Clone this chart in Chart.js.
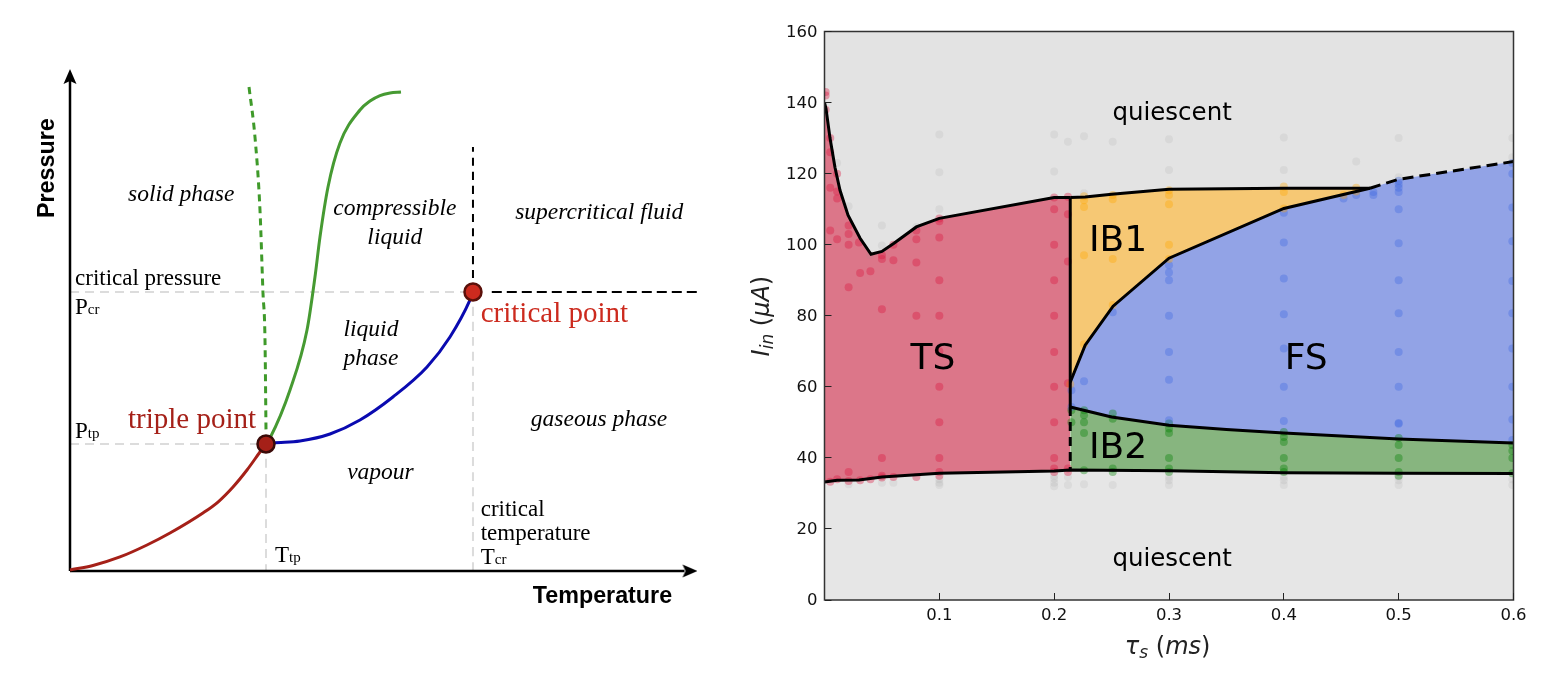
<!DOCTYPE html>
<html>
<head>
<meta charset="utf-8">
<title>Phase diagrams</title>
<script src="https://cdn.jsdelivr.net/npm/chart.js@4"></script>
<style>
  html, body { margin: 0; padding: 0; background: #fff; overflow: hidden; }
  canvas { position: absolute; top: 0; }
  #phase { left: 0; }
  #regime { left: 740px; }
</style>
</head>
<body>
<canvas id="phase" width="740" height="674"></canvas>
<canvas id="regime" width="802" height="674"></canvas>
<script>
// ---- left panel data, temperature / pressure in percent of the axes ----
const sublimationCurve = [[0,0.2],[3.67,1.1],[7.97,2.8],[12.28,5.19],[15.95,7.58],[21.2,11.58],[23.6,13.77],[26,16.77],[28.23,20.16],[30.3,23.75],[31.26,25.35]];
const vapourCurve = [[31.26,25.35],[32.38,25.55],[36.68,25.95],[41.47,27.35],[46.25,30.14],[51.5,34.73],[56.94,40.72],[60.6,46.7],[63.8,54.1],[64.27,55.69]];
const meltingCurve = [[31.26,25.35],[31.9,26.55],[35.09,36.13],[37.8,48.1],[39.07,58.68],[39.87,66.67],[41.15,76.65],[43.06,85.43],[46.25,92.02],[47.85,93.8],[49.44,94.9],[51.04,95.4],[52.79,95.6]];
const waterMeltingCurve = [[28.55,96.61],[29.5,86.63],[30.3,72.06],[30.78,55.49],[31.1,46.1],[31.26,28.14]];
const triplePoint = [31.26, 25.35];
const criticalPoint = [64.27, 55.69];
const supercriticalTop = 84.63;

// ---- right panel data ----
const xTicks = [0.1, 0.2, 0.3, 0.4, 0.5, 0.6];
const yTicks = [0, 20, 40, 60, 80, 100, 120, 140, 160];

const tsTop = [[0,140],[0.0013,138.3],[0.0048,130],[0.0091,121.8],[0.0135,115.3],[0.0205,108.3],[0.031,101.8],[0.0405,97.3],[0.05,98.1],[0.0605,100.4],[0.08,105],[0.1,107.4],[0.2,113.3],[0.214,113.3]];
const ib1Top = [[0.214,113.3],[0.227,113.4],[0.25,114.2],[0.3,115.6],[0.4,115.9],[0.475,115.9]];
const ib1Bottom = [[0.214,61.3],[0.227,71.7],[0.2513,82.7],[0.3,96.2],[0.4,110.2],[0.475,115.9]];
const fsDashed = [[0.475,115.9],[0.5,118.4],[0.6,123.4]];
const ib2Top = [[0.214,54.3],[0.25,51.5],[0.3,49.2],[0.35,48],[0.4,47],[0.5,45.3],[0.6,44.2]];
const lowerEdge = [[0,33.2],[0.011,33.7],[0.03,33.8],[0.05,34.6],[0.1,35.7],[0.2,36.3],[0.214,36.6],[0.3,36.4],[0.4,35.8],[0.5,35.7],[0.6,35.6]];
const solidDivider = [[0.214,113.3],[0.214,54.3]];
const dashedDivider = [[0.214,54.3],[0.214,36.6]];

const tsDots = [[0.001,143],[0.001,142],[0.001,138],[0.005,130],[0.005,126],[0.011,120],[0.005,116],[0.011,115],[0.011,113],[0.021,105.4],[0.021,103],[0.005,104],[0.011,101.5],[0.021,100],[0.03,100.6],[0.04,92.5],[0.031,92],[0.021,88],[0.05,97],[0.05,96],[0.06,100],[0.06,95.6],[0.08,104],[0.08,101.5],[0.08,95],[0.1,107.4],[0.1,106.6],[0.1,102],[0.1,90],[0.2,113.3],[0.2,110],[0.2,100],[0.2,90],[0.212,113.5],[0.212,108.6],[0.212,95.3],[0.05,81.8],[0.08,80],[0.1,80],[0.2,80],[0.1,70],[0.2,69.8],[0.1,60],[0.2,60],[0.212,61],[0.1,50],[0.2,50],[0.05,40],[0.1,40],[0.2,40],[0.021,36],[0.2,37],[0.2,36],[0.212,37],[0.212,36],[0.1,36],[0.1,35],[0.05,35],[0.05,34.5],[0.06,34.6],[0.08,34.6],[0.04,34],[0.031,33.7],[0.021,33.5],[0.011,34],[0.005,33.3]];
const ib1Dots = [[0.214,60.7],[0.226,72],[0.226,113.6],[0.226,112.5],[0.226,110.6],[0.251,114],[0.251,112.8],[0.3,115.3],[0.3,114],[0.3,111.4],[0.226,97],[0.251,96],[0.3,100],[0.3,96],[0.4,116.4],[0.4,114.8],[0.4,110.2],[0.251,83],[0.452,114],[0.463,116],[0.463,115]];
const fsDots = [[0.251,81],[0.3,94.2],[0.3,92.2],[0.3,90],[0.3,80],[0.4,109],[0.4,100.6],[0.4,90.5],[0.4,80.4],[0.452,113],[0.463,114],[0.478,114.8],[0.478,114],[0.5,118],[0.5,117],[0.5,116],[0.5,114.8],[0.5,110],[0.5,100.4],[0.5,90],[0.5,80.7],[0.599,123],[0.599,120],[0.599,110.5],[0.599,101],[0.599,89.8],[0.599,80.7],[0.3,69.8],[0.4,70.8],[0.5,69.8],[0.599,70.8],[0.226,61.6],[0.3,62],[0.4,60],[0.5,60],[0.599,60],[0.215,59],[0.3,50.6],[0.4,50.4],[0.5,49.8],[0.5,49.6],[0.599,50.8],[0.215,54.3],[0.599,45]];
const ib2Dots = [[0.215,53.4],[0.215,50],[0.226,53.4],[0.226,52],[0.226,50],[0.226,47],[0.251,52.5],[0.251,51],[0.3,49.7],[0.3,48.3],[0.3,47],[0.3,40],[0.3,37],[0.3,36],[0.251,37],[0.251,36],[0.226,36.5],[0.4,47.3],[0.4,45.9],[0.4,44.5],[0.4,40],[0.4,37],[0.4,36],[0.5,45.6],[0.5,43.6],[0.5,40],[0.5,36],[0.5,35],[0.599,43.6],[0.599,42],[0.599,40],[0.599,35.7]];
const quiescentDots = [[0.1,131],[0.1,120.4],[0.1,110],[0.05,105.4],[0.05,99.8],[0.021,110.8],[0.011,123],[0.04,97],[0.08,105],[0.2,131],[0.2,120.6],[0.212,129],[0.226,130.5],[0.226,114.5],[0.251,129],[0.3,129.7],[0.3,121],[0.4,130.2],[0.4,121],[0.5,130],[0.463,123.4],[0.5,119],[0.599,130],[0.599,124.6],[0.021,32.6],[0.05,33],[0.06,33],[0.1,34],[0.1,33],[0.1,32.4],[0.2,35],[0.2,34.2],[0.2,33],[0.2,32],[0.212,34.6],[0.212,32.4],[0.226,32.6],[0.251,32.4],[0.3,34.6],[0.3,33.7],[0.3,32.4],[0.4,34.6],[0.4,33.7],[0.4,32.4],[0.5,34.6],[0.5,33.7],[0.5,32.4],[0.599,34],[0.599,32.4]];

const toXY = pairs => pairs.map(p => ({ x: p[0], y: p[1] }));

// 文字标注插件：坐标走 scale，支持下标
const textLayer = {
  id: 'textLayer',
  afterDraw(chart, args, opts) {
    const ctx = chart.ctx;
    opts.items.forEach(item => {
      const px = chart.scales.x.getPixelForValue(item.x);
      const py = chart.scales.y.getPixelForValue(item.y);
      ctx.save();
      ctx.translate(px, py);
      if (item.rotate) ctx.rotate(item.rotate);
      ctx.fillStyle = item.color || '#000';
      ctx.textBaseline = 'alphabetic';
      ctx.textAlign = 'left';
      let width = 0;
      item.runs.forEach(r => { ctx.font = r.font; width += ctx.measureText(r.text).width; });
      let cursor = item.center ? -width / 2 : 0;
      item.runs.forEach(r => {
        ctx.font = r.font;
        ctx.fillText(r.text, cursor, r.dy || 0);
        cursor += ctx.measureText(r.text).width;
      });
      ctx.restore();
    });
  }
};

// 右图四周的边框
const frame = {
  id: 'frame',
  afterDatasetsDraw(chart) {
    const a = chart.chartArea, ctx = chart.ctx;
    ctx.save();
    ctx.strokeStyle = '#333';
    ctx.lineWidth = 1.5;
    ctx.strokeRect(a.left, a.top, a.right - a.left, a.bottom - a.top);
    ctx.restore();
  }
};

function arrowHead() {
  const c = document.createElement('canvas');
  c.width = 16; c.height = 14;
  const g = c.getContext('2d');
  g.beginPath();
  g.moveTo(16, 7); g.lineTo(1, 0.5); g.lineTo(4, 7); g.lineTo(1, 13.5);
  g.closePath();
  g.fillStyle = '#000';
  g.fill();
  return c;
}

// ---- left panel ----
function curve(pairs, color, width, dash) {
  return {
    data: toXY(pairs), showLine: true, borderColor: color, borderWidth: width,
    borderDash: dash || [], cubicInterpolationMode: 'monotone', pointRadius: 0, clip: false
  };
}

function marker(point, fill, edge) {
  return {
    data: toXY([point]), pointRadius: 8.5, pointBackgroundColor: fill,
    pointBorderColor: edge, pointBorderWidth: 2.5, clip: false
  };
}

function arrow(point, rotation) {
  return {
    data: toXY([point]), pointStyle: arrowHead(), pointRotation: rotation,
    pointRadius: 8, clip: false
  };
}

const serif = 'Liberation Serif';
const phaseItalic = `italic 23.5px "${serif}"`;
const phasePlain = `23px "${serif}"`;
const phaseSub = `15px "${serif}"`;
const phaseBig = `29px "${serif}"`;
const phaseBold = 'bold 23.3px "Liberation Sans"';

const phaseLabels = [
  { x: 9.25, y: 73.85, runs: [{ text: 'solid phase', font: phaseItalic }] },
  { x: 51.8, y: 71.1, center: true, runs: [{ text: 'compressible', font: phaseItalic }] },
  { x: 51.8, y: 65.3, center: true, runs: [{ text: 'liquid', font: phaseItalic }] },
  { x: 71, y: 70.2, runs: [{ text: 'supercritical fluid', font: phaseItalic }] },
  { x: 0.8, y: 57.1, runs: [{ text: 'critical pressure', font: phasePlain }] },
  { x: 0.8, y: 51.3, runs: [{ text: 'P', font: phasePlain }, { text: 'cr', font: phaseSub }] },
  { x: 48, y: 46.9, center: true, runs: [{ text: 'liquid', font: phaseItalic }] },
  { x: 48, y: 41.1, center: true, runs: [{ text: 'phase', font: phaseItalic }] },
  { x: 65.5, y: 49.7, color: '#cc2a1e', runs: [{ text: 'critical point', font: phaseBig }] },
  { x: 9.25, y: 28.5, color: '#a52018', runs: [{ text: 'triple point', font: phaseBig }] },
  { x: 73.5, y: 28.9, runs: [{ text: 'gaseous phase', font: phaseItalic }] },
  { x: 44.2, y: 18.3, runs: [{ text: 'vapour', font: phaseItalic }] },
  { x: 0.8, y: 26.5, runs: [{ text: 'P', font: phasePlain }, { text: 'tp', font: phaseSub }] },
  { x: 32.7, y: 1.8, runs: [{ text: 'T', font: phasePlain }, { text: 'tp', font: phaseSub }] },
  { x: 65.5, y: 11, runs: [{ text: 'critical', font: phasePlain }] },
  { x: 65.5, y: 6.2, runs: [{ text: 'temperature', font: phasePlain }] },
  { x: 65.5, y: 1.4, runs: [{ text: 'T', font: phasePlain }, { text: 'cr', font: phaseSub }] },
  { x: 73.8, y: -6.4, runs: [{ text: 'Temperature', font: phaseBold }] },
  { x: -2.55, y: 80.4, center: true, rotate: -Math.PI / 2, runs: [{ text: 'Pressure', font: phaseBold }] }
];

new Chart(document.getElementById('phase'), {
  type: 'scatter',
  data: {
    datasets: [
      marker(triplePoint, '#a52018', '#3a0a08'),
      marker(criticalPoint, '#cc2a1e', '#5a100a'),
      arrow([98.8, 0], 0),
      arrow([0, 98.6], -90),
      curve(sublimationCurve, '#a52018', 3),
      curve(vapourCurve, '#0a0ab0', 3),
      curve(meltingCurve, '#469a32', 3),
      curve(waterMeltingCurve, '#3f9a2a', 3, [7, 5]),
      curve([[0, 0], [98, 0]], '#000', 2.5),
      curve([[0, 0], [0, 98]], '#000', 2.5),
      curve([criticalPoint, [criticalPoint[0], supercriticalTop]], '#000', 2, [8, 6]),
      curve([[criticalPoint[0] + 3, criticalPoint[1]], [100, criticalPoint[1]]], '#000', 2, [10, 5]),
      curve([[0, criticalPoint[1]], criticalPoint], '#dcdcdc', 2, [9, 6]),
      curve([[0, triplePoint[1]], triplePoint], '#dcdcdc', 2, [9, 6]),
      curve([triplePoint, [triplePoint[0], 0]], '#dcdcdc', 2, [9, 6]),
      curve([criticalPoint, [criticalPoint[0], 0]], '#dcdcdc', 2, [9, 6])
    ]
  },
  options: {
    responsive: false,
    animation: false,
    layout: { padding: { left: 70, right: 43, top: 70, bottom: 103 } },
    scales: {
      x: { display: false, min: 0, max: 100 },
      y: { display: false, min: 0, max: 100 }
    },
    plugins: {
      legend: { display: false },
      tooltip: { enabled: false },
      textLayer: { items: phaseLabels }
    }
  },
  plugins: [textLayer]
});

// ---- right panel ----
const sans = 'DejaVu Sans';
const regionFont = `36px "${sans}"`;
const quietFont = `24.5px "${sans}"`;
const axisItalic = `oblique 24px "${sans}"`;
const axisPlain = `24px "${sans}"`;
const axisSub = `oblique 17px "${sans}"`;

const regimeLabels = [
  { x: 0.3027, y: 135, center: true, runs: [{ text: 'quiescent', font: quietFont }] },
  { x: 0.3027, y: 9.5, center: true, runs: [{ text: 'quiescent', font: quietFont }] },
  { x: 0.0945, y: 65, center: true, runs: [{ text: 'TS', font: regionFont }] },
  { x: 0.4194, y: 65, center: true, runs: [{ text: 'FS', font: regionFont }] },
  { x: 0.2556, y: 98.2, center: true, runs: [{ text: 'IB1', font: regionFont }] },
  { x: 0.2556, y: 40, center: true, runs: [{ text: 'IB2', font: regionFont }] },
  { x: 0.2988, y: -15.2, center: true, color: '#222', runs: [
    { text: 'τ', font: axisItalic }, { text: 's', font: axisSub, dy: 4 },
    { text: ' (', font: axisPlain }, { text: 'ms', font: axisItalic }, { text: ')', font: axisPlain }
  ] },
  { x: -0.0485, y: 79.9, center: true, rotate: -Math.PI / 2, color: '#222', runs: [
    { text: 'I', font: axisItalic }, { text: 'in', font: axisSub, dy: 4 },
    { text: ' (', font: axisPlain }, { text: 'μA', font: axisItalic }, { text: ')', font: axisPlain }
  ] }
];

function edge(pairs, dash) {
  return { data: toXY(pairs), showLine: true, borderColor: '#000', borderWidth: 3, borderDash: dash || [], pointRadius: 0 };
}

function dots(pairs, color) {
  return { data: toXY(pairs), backgroundColor: color, pointRadius: 4, pointBorderWidth: 0 };
}

function area(pairs, target, color) {
  return { data: toXY(pairs), showLine: true, borderWidth: 0, borderColor: 'transparent', pointRadius: 0, fill: { target: target }, backgroundColor: color };
}

const upperEdge = tsTop.concat(ib1Top.slice(1), fsDashed.slice(1));
const LOWER = 6; // lowerEdge 在 datasets 里的下标
const IB2TOP = 5;
const IB1BOTTOM = 3;

new Chart(document.getElementById('regime'), {
  type: 'scatter',
  data: {
    datasets: [
      edge(tsTop),
      edge(ib1Top),
      edge(fsDashed, [11, 6]),
      edge(ib1Bottom),
      edge(solidDivider),
      edge(ib2Top),
      edge(lowerEdge),
      edge(dashedDivider, [9, 6]),
      dots(tsDots, 'rgba(220,20,60,0.36)'),
      dots(ib1Dots, 'rgba(255,165,0,0.36)'),
      dots(fsDots, 'rgba(65,105,225,0.36)'),
      dots(ib2Dots, 'rgba(0,128,0,0.36)'),
      dots(quiescentDots, 'rgba(150,150,150,0.13)'),
      area(tsTop, LOWER, '#dc7689'),
      area(ib1Top, IB1BOTTOM, '#f6c874'),
      area(ib1Bottom.concat(fsDashed.slice(1)), IB2TOP, '#92a3e6'),
      area(ib2Top, LOWER, '#87b57f'),
      area(upperEdge, 'end', '#e3e3e3'),
      area(lowerEdge, 'origin', '#e6e6e6')
    ]
  },
  options: {
    responsive: false,
    animation: false,
    layout: { padding: { left: 0, right: 28.5, top: 31.5, bottom: 0 } },
    scales: {
      x: {
        type: 'linear', min: 0, max: 0.6,
        afterFit: s => { s.height = 74; },
        afterBuildTicks: s => { s.ticks = xTicks.map(v => ({ value: v })); },
        grid: { z: 1, drawOnChartArea: false, tickLength: -7, color: '#222' },
        border: { display: false },
        ticks: { color: '#111', font: { family: sans, size: 16.5 }, padding: 13, maxRotation: 0, autoSkip: false, callback: v => v.toFixed(1) }
      },
      y: {
        type: 'linear', min: 0, max: 160,
        afterFit: s => { s.width = 84.5; },
        afterBuildTicks: s => { s.ticks = yTicks.map(v => ({ value: v })); },
        grid: { z: 1, drawOnChartArea: false, tickLength: -7, color: '#222' },
        border: { display: false },
        ticks: { color: '#111', font: { family: sans, size: 16.5 }, padding: 14, labelOffset: 1, autoSkip: false }
      }
    },
    plugins: {
      legend: { display: false },
      tooltip: { enabled: false },
      textLayer: { items: regimeLabels }
    }
  },
  plugins: [textLayer, frame]
});
</script>
</body>
</html>
